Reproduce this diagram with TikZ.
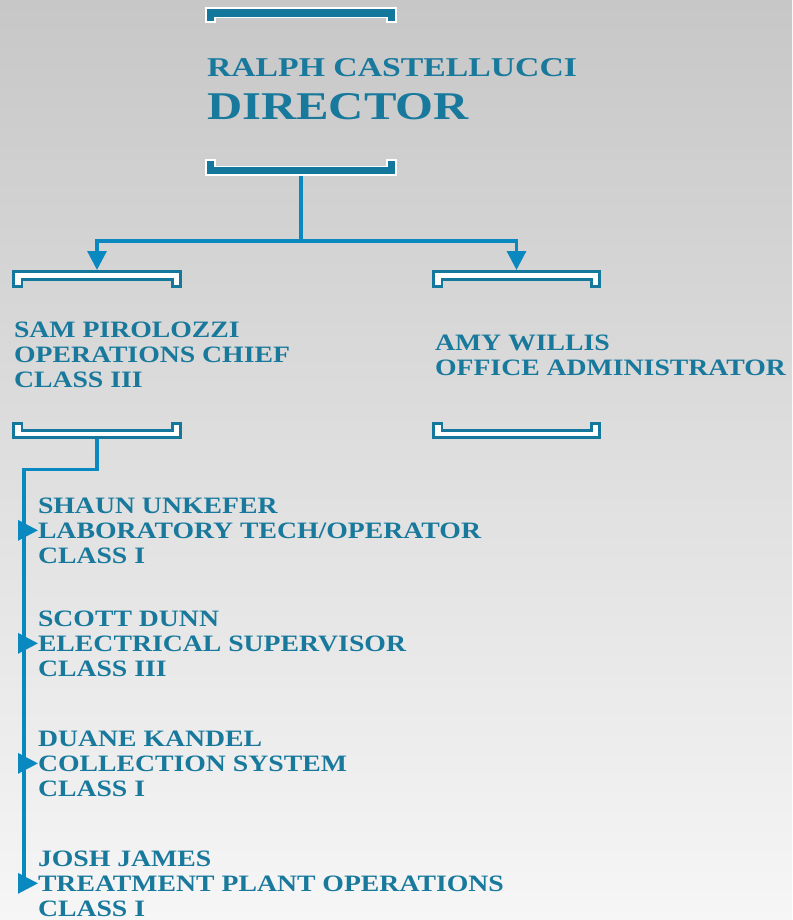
\documentclass[tikz,border=0pt]{standalone}
\usepackage{fontspec}
\usetikzlibrary{arrows.meta}
\newfontfamily\engr{Liberation Serif Bold}[FakeStretch=1.18]
\newfontfamily\engrD{Liberation Serif Bold}[FakeStretch=1.24]
\definecolor{txt}{HTML}{18799C}
\definecolor{conncol}{HTML}{0A88C0}
\definecolor{brk}{HTML}{14779C}
\newcommand\brtop[7]{\draw[#7] (#1,#3) -- (#2,#3) -- (#2,#4) -- ({#2-#6},#4) -- ({#2-#6},{#3+#5}) -- ({#1+#6},{#3+#5}) -- ({#1+#6},#4) -- (#1,#4) -- cycle;}
\newcommand\brbot[7]{\draw[#7] (#1,#4) -- (#2,#4) -- (#2,#3) -- ({#2-#6},#3) -- ({#2-#6},{#4-#5}) -- ({#1+#6},{#4-#5}) -- ({#1+#6},#3) -- (#1,#3) -- cycle;}
\begin{document}
\begin{tikzpicture}[x=1pt,y=-1pt,
  area/.style={inner sep=0pt,outer sep=0pt,minimum height=169pt},
  dirbr/.style={fill=brk,draw=white,line width=1.8pt,line join=miter},
  subbr/.style={fill=white,draw=brk,line width=2.8pt,line join=miter},
  lbl/.style={inner sep=0pt,outer sep=0pt,anchor=base west,align=left,text=txt,
    font=\engr\fontsize{23.5}{25}\selectfont},
  connline/.style={draw=conncol,line width=3.2pt},
  downarr/.style={connline,-{Triangle[length=19pt,width=19pt]}},
  sidearr/.style={connline,-{Triangle[length=20pt,width=20pt]}}]
\useasboundingbox (0,0) rectangle (792,920);
\shade[top color={rgb,255:red,199;green,199;blue,199},bottom color={rgb,255:red,246;green,246;blue,246}] (0,0) rectangle (792,920);
% box areas
\node[area,minimum width=192pt] (dir) at (301,91.5) {};
\node[area,minimum width=170pt] (sam) at (97,354.5) {};
\node[area,minimum width=169pt] (amy) at (516.5,354.5) {};
% brackets
\brtop{205.9}{396.1}{7.9}{22.1}{9.6}{9}{dirbr}
\brbot{205.9}{396.1}{159.9}{175.1}{8.6}{9}{dirbr}
\brtop{13.4}{180.6}{271.4}{286.1}{8}{8.5}{subbr}
\brbot{13.4}{180.6}{423.6}{437.8}{7.4}{8.5}{subbr}
\brtop{433.4}{599.6}{271.4}{286.1}{8}{8.5}{subbr}
\brbot{433.4}{599.6}{423.6}{437.8}{7.4}{8.5}{subbr}
% texts
\node[lbl,font=\engrD\fontsize{27.2}{30}\selectfont] (dirname) at (207,77) {RALPH CASTELLUCCI};
\node[lbl,font=\engrD\fontsize{39.3}{42}\selectfont] (dirtitle) at (207,119.5) {DIRECTOR};
\node[lbl] (samt) at (14,387) {SAM PIROLOZZI\\OPERATIONS CHIEF\\CLASS III};
\node[lbl] (amyt) at (435,375) {AMY WILLIS\\OFFICE ADMINISTRATOR};
\node[lbl] (shaun) at (38,563) {SHAUN UNKEFER\\LABORATORY TECH/OPERATOR\\CLASS I};
\node[lbl] (scott) at (38,676) {SCOTT DUNN\\ELECTRICAL SUPERVISOR\\CLASS III};
\node[lbl] (duane) at (38,796) {DUANE KANDEL\\COLLECTION SYSTEM\\CLASS I};
\node[lbl] (josh) at (38,916) {JOSH JAMES\\TREATMENT PLANT OPERATIONS\\CLASS I};
% connectors
\coordinate (split) at (301,241);
\coordinate (trunk) at (24,469.5);
\draw[downarr] (dir.south) -- (split) -| (sam.north);
\draw[downarr] (split) -| (amy.north);
\foreach \c in {shaun,scott,duane,josh}
  \draw[sidearr] (sam.south) |- (trunk) |- (\c.west);
\end{tikzpicture}
\end{document}
